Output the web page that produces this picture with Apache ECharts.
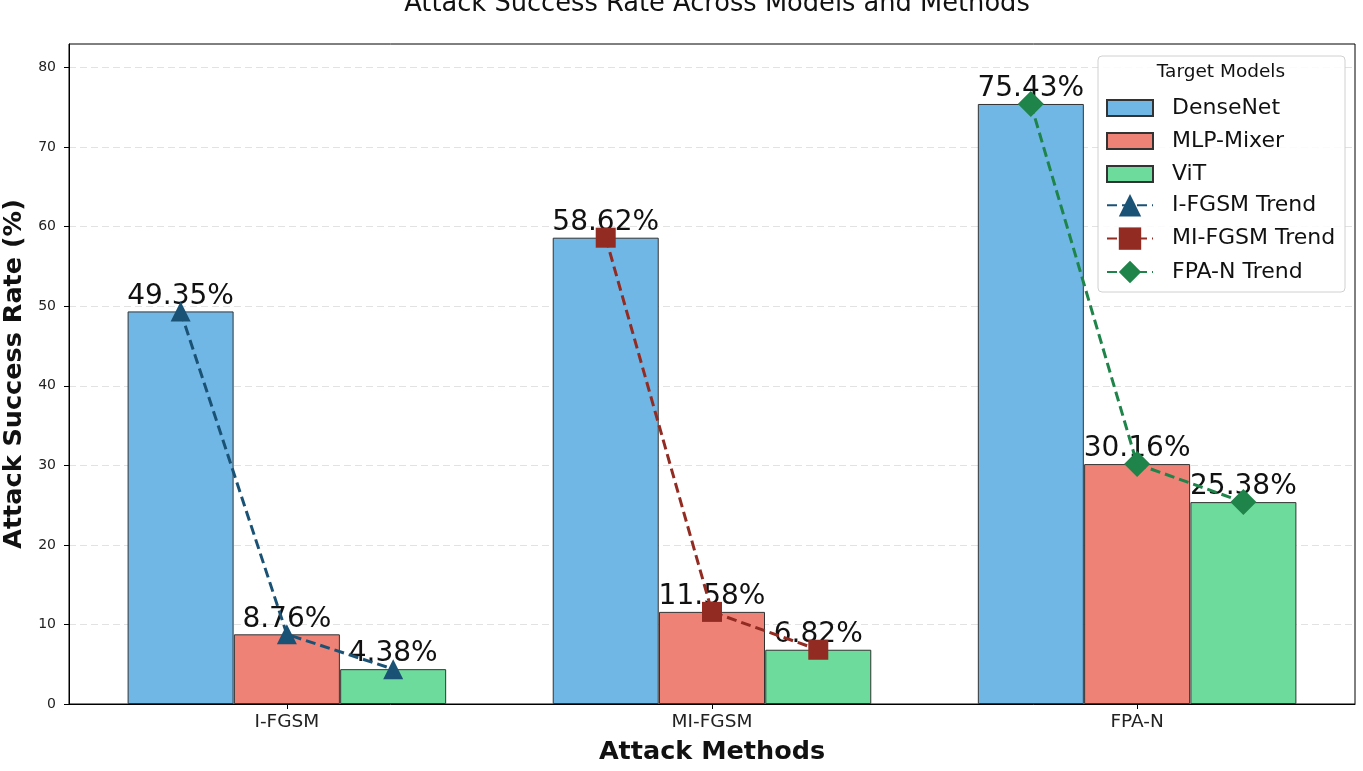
<!DOCTYPE html>
<html>
<head>
<meta charset="utf-8">
<script src="https://cdn.jsdelivr.net/npm/echarts@6/dist/echarts.min.js"></script>
<style>
html, body { margin: 0; padding: 0; background: #fff; }
#chart { width: 1363px; height: 771px; }
</style>
</head>
<body>
<div id="chart"></div>
<script>
// data
var methods = ['I-FGSM', 'MI-FGSM', 'FPA-N'];
var models = ['DenseNet', 'MLP-Mixer', 'ViT'];
var denseNet = [49.35, 58.62, 75.43];
var mlpMixer = [8.76, 11.58, 30.16];
var vit = [4.38, 6.82, 25.38];
var yTicks = [0, 10, 20, 30, 40, 50, 60, 70, 80];

var barColors = ['#71b7e6', '#ee8276', '#6ddb9b'];
var trendColors = ['#1a5276', '#922b21', '#1e8449'];
var trendSymbols = ['triangle', 'rect', 'diamond'];
var trendSizes = [20, 20, 26];
var barOffset = [-0.25, 0, 0.25]; // bar width 0.25 per group, like plt.bar

var chart = echarts.init(document.getElementById('chart'));
var font = 'DejaVu Sans';

var modelValues = [denseNet, mlpMixer, vit];
var series = [];

// 柱子
for (var j = 0; j < models.length; j++) {
	var pts = [];
	for (var i = 0; i < methods.length; i++) {
		pts.push([i + barOffset[j], modelValues[j][i]]);
	}
	series.push({
		name: models[j],
		type: 'bar',
		barWidth: 106,
		barGap: '-100%',
		data: pts,
		itemStyle: {
			color: barColors[j],
			borderColor: '#333',
			borderWidth: 1
		},
		label: {
			show: true,
			position: 'top',
			distance: 1,
			fontFamily: font,
			fontSize: 28,
			color: '#111',
			formatter: function (p) { return p.value[1].toFixed(2) + '%'; }
		},
		z: 2
	});
}

// 趋势线
for (var i = 0; i < methods.length; i++) {
	var line = [];
	for (var j = 0; j < models.length; j++) {
		line.push([i + barOffset[j], modelValues[j][i]]);
	}
	series.push({
		name: methods[i] + ' Trend',
		type: 'line',
		data: line,
		symbol: trendSymbols[i],
		symbolSize: trendSizes[i],
		lineStyle: { color: trendColors[i], width: 3, type: [10, 5] },
		itemStyle: { color: trendColors[i] },
		z: 5
	});
}

var option = {
	animation: false,
	textStyle: { fontFamily: font },
	title: {
		text: 'Attack Success Rate Across Models and Methods',
		left: 712,
		textAlign: 'center',
		top: -14,
		textStyle: { fontFamily: font, fontSize: 25.7, fontWeight: 'normal', color: '#111' }
	},
	grid: {
		left: 69,
		right: 8,
		top: 44,
		bottom: 67,
		outerBoundsMode: 'none',
		show: true,
		borderColor: '#000',
		borderWidth: 1
	},
	legend: [{
		data: models,
		orient: 'vertical',
		left: 1106,
		top: 97,
		padding: 0,
		icon: 'rect',
		itemWidth: 46,
		itemHeight: 16,
		itemGap: 11,
		textStyle: { fontFamily: font, fontSize: 22, lineHeight: 22, color: '#111', padding: [0, 0, 0, 14] },
		z: 12
	}, {
		data: methods.map(function (m) { return m + ' Trend'; }),
		orient: 'vertical',
		left: 1106,
		top: 194,
		padding: 0,
		itemWidth: 46,
		itemHeight: 28,
		itemGap: 11,
		textStyle: { fontFamily: font, fontSize: 22, lineHeight: 22, color: '#111', padding: [0, 0, 0, 14] },
		z: 12
	}],
	graphic: [{
		type: 'rect',
		shape: { x: 1098, y: 56, width: 247, height: 236, r: 4 },
		style: { fill: 'rgba(255,255,255,0.85)', stroke: '#d0d0d0', lineWidth: 1 },
		z: 10
	}, {
		type: 'text',
		x: 1221,
		y: 72,
		style: {
			text: 'Target Models',
			fontFamily: font,
			fontSize: 18.5,
			fill: '#111',
			align: 'center',
			verticalAlign: 'middle'
		},
		z: 12
	}],
	xAxis: {
		type: 'value',
		min: -0.5125,
		max: 2.5125,
		name: 'Attack Methods',
		nameLocation: 'middle',
		nameGap: 35,
		nameTextStyle: { fontFamily: font, fontSize: 25.5, fontWeight: 'bold', color: '#111' },
		axisLine: { show: true, onZero: false, lineStyle: { color: '#000', width: 1 } },
		axisTick: { show: true, length: 5, lineStyle: { color: '#000' }, customValues: [0, 1, 2] },
		axisLabel: {
			fontFamily: font,
			fontSize: 18.5,
			color: '#222',
			margin: 9,
			customValues: [0, 1, 2],
			formatter: function (v) { return methods[Math.round(v)]; }
		},
		splitLine: { show: false }
	},
	yAxis: {
		type: 'value',
		min: 0,
		max: 82.97,
		interval: 10,
		name: 'Attack Success Rate (%)',
		nameLocation: 'middle',
		nameGap: 33,
		nameTextStyle: { fontFamily: font, fontSize: 25.5, fontWeight: 'bold', color: '#111' },
		axisLine: { show: true, onZero: false, lineStyle: { color: '#000', width: 1 } },
		axisTick: { show: true, length: 5, lineStyle: { color: '#000' }, customValues: yTicks },
		axisLabel: { fontFamily: font, fontSize: 14, color: '#222', margin: 13, customValues: yTicks },
		splitLine: { show: true, lineStyle: { color: '#e2e2e2', type: [7, 4], width: 1 } }
	},
	series: series
};

chart.setOption(option);
</script>
</body>
</html>
